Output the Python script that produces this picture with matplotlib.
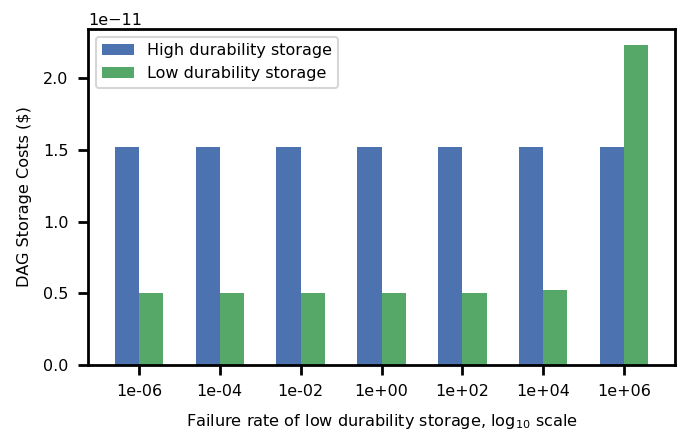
import matplotlib
matplotlib.use("Agg")
import matplotlib.pyplot as plt
import numpy as np

categories = ["1e-06", "1e-04", "1e-02", "1e+00", "1e+02", "1e+04", "1e+06"]
high_durability = [1.52e-11, 1.52e-11, 1.52e-11, 1.52e-11, 1.52e-11, 1.52e-11, 1.52e-11]
low_durability = [0.50e-11, 0.50e-11, 0.50e-11, 0.50e-11, 0.50e-11, 0.52e-11, 2.23e-11]

plt.rcParams['font.family'] = ['DejaVu Sans']

fig = plt.figure(figsize=(6.83, 4.34), dpi=100)
ax = fig.add_axes([88/683, 1 - 365/434, (675-88)/683, (365-29)/434])

x = np.arange(len(categories))
w = 0.3
ax.bar(x - w/2, high_durability, w, color="#4C72B0", label="High durability storage")
ax.bar(x + w/2, low_durability, w, color="#55A868", label="Low durability storage")

ax.set_xticks(x)
ax.set_xticklabels(categories)
ax.set_yticks(np.array([0.0, 0.5, 1.0, 1.5, 2.0]) * 1e-11)
ax.tick_params(axis='both', labelsize=11.5, length=7, width=2, pad=7)
for s in ax.spines.values():
    s.set_linewidth(2)
ax.yaxis.get_offset_text().set_fontsize(11.5)

ax.set_xlabel("Failure rate of low durability storage, log$_{10}$ scale", fontsize=11.6, labelpad=9)
ax.set_ylabel("DAG Storage Costs ($)", fontsize=11.6, labelpad=8)

leg = ax.legend(loc="upper left", fontsize=11.5, frameon=True, fancybox=True)
leg.get_frame().set_edgecolor("#cccccc")
leg.get_frame().set_linewidth(1.5)

fig.savefig("out.png", dpi=100)
